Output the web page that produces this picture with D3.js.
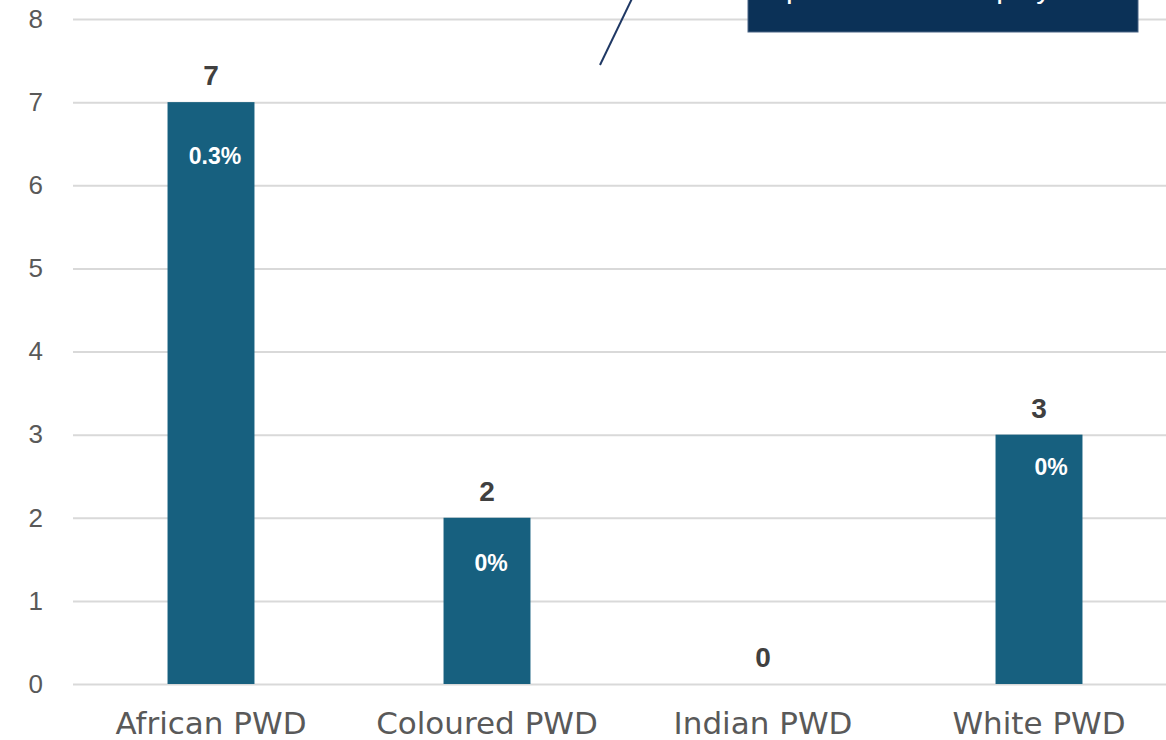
<!DOCTYPE html>
<html>
<head>
<meta charset="utf-8">
<script src="https://cdn.jsdelivr.net/npm/d3@7"></script>
<style>
  html, body { margin: 0; padding: 0; background: #fff; overflow: hidden; }
  svg { display: block; }
</style>
</head>
<body>
<div id="chart"></div>
<script>
var categories = ["African PWD", "Coloured PWD", "Indian PWD", "White PWD"],
    counts = [7, 2, 0, 3],
    shares = ["0.3%", "0%", "", "0%"],
    yTicks = [0, 1, 2, 3, 4, 5, 6, 7, 8],
    calloutText = "per 100 000 employees";

var width = 1166,
    height = 740,
    margin = { top: 19, bottom: 56, left: 73, right: -11 };

var svg = d3.select("#chart")
    .append("svg")
    .attr("width", width)
    .attr("height", height);

var chart = svg.append("g")
    .attr("transform", "translate(" + margin.left + "," + margin.top + ")");

var innerW = width - margin.left - margin.right,
    innerH = height - margin.top - margin.bottom;

var xScale = d3.scaleBand()
    .domain(categories)
    .range([0, innerW])
    .paddingInner(0.685)
    .paddingOuter(0.3425);

var yScale = d3.scaleLinear()
    .domain([0, 8])
    .range([innerH, 0]);

// gridlines
chart.append("g")
    .attr("class", "grid")
    .call(d3.axisLeft(yScale)
        .tickValues(yTicks)
        .tickSize(-innerW)
        .tickFormat(""))
    .call(function (g) {
        g.select(".domain").remove();
        g.selectAll("line").attr("stroke", "#d9d9d9").attr("stroke-width", 2);
    });

// y labels
chart.append("g")
    .call(d3.axisLeft(yScale).tickValues(yTicks).tickSize(0).tickPadding(30))
    .call(function (g) {
        g.select(".domain").remove();
        g.selectAll("text")
            .attr("fill", "#595959")
            .style("font-family", "'Liberation Sans', Arial, sans-serif")
            .style("font-size", "26px");
    });

// x labels
chart.append("g")
    .attr("transform", "translate(0," + innerH + ")")
    .call(d3.axisBottom(xScale).tickSize(0).tickPadding(28))
    .call(function (g) {
        g.select(".domain").remove();
        g.selectAll("text")
            .attr("fill", "#595959")
            .style("font-family", "'DejaVu Sans', sans-serif")
            .style("font-size", "31px");
    });

// bars
chart.selectAll(".bar")
    .data(counts)
    .enter()
    .append("rect")
    .attr("class", "bar")
    .attr("x", function (d, i) { return xScale(categories[i]); })
    .attr("y", function (d) { return yScale(d); })
    .attr("width", xScale.bandwidth())
    .attr("height", function (d) { return innerH - yScale(d); })
    .attr("fill", "#17607f");

// count labels
chart.selectAll(".count")
    .data(counts)
    .enter()
    .append("text")
    .attr("x", function (d, i) { return xScale(categories[i]) + xScale.bandwidth() / 2; })
    .attr("y", function (d) { return yScale(d) - 17; })
    .attr("text-anchor", "middle")
    .attr("fill", "#404040")
    .style("font-family", "'Liberation Sans', Arial, sans-serif")
    .style("font-weight", "bold")
    .style("font-size", "28px")
    .text(function (d) { return d; });

// share labels inside bars (hand placed in the original)
var shareDrop = [62, 53, 0, 40],
    shareShift = [4, 4, 0, 12];
chart.selectAll(".share")
    .data(shares)
    .enter()
    .append("text")
    .attr("x", function (d, i) { return xScale(categories[i]) + xScale.bandwidth() / 2 + shareShift[i]; })
    .attr("y", function (d, i) { return yScale(counts[i]) + shareDrop[i]; })
    .attr("text-anchor", "middle")
    .attr("fill", "#ffffff")
    .style("font-family", "'Liberation Sans', Arial, sans-serif")
    .style("font-weight", "bold")
    .style("font-size", "23px")
    .text(function (d) { return d; });

// callout box and leader line
svg.append("line")
    .attr("x1", 600).attr("y1", 65)
    .attr("x2", 640).attr("y2", -18)
    .attr("stroke", "#1f3864")
    .attr("stroke-width", 2);

svg.append("rect")
    .attr("x", 748).attr("y", -60)
    .attr("width", 390).attr("height", 92)
    .attr("fill", "#0b3157")
    .attr("stroke", "#4a6585")
    .attr("stroke-width", 1);

svg.append("text")
    .attr("x", 786).attr("y", -2)
    .attr("fill", "#ffffff")
    .style("font-family", "'Liberation Sans', Arial, sans-serif")
    .style("font-size", "30px")
    .text(calloutText);
</script>
</body>
</html>
